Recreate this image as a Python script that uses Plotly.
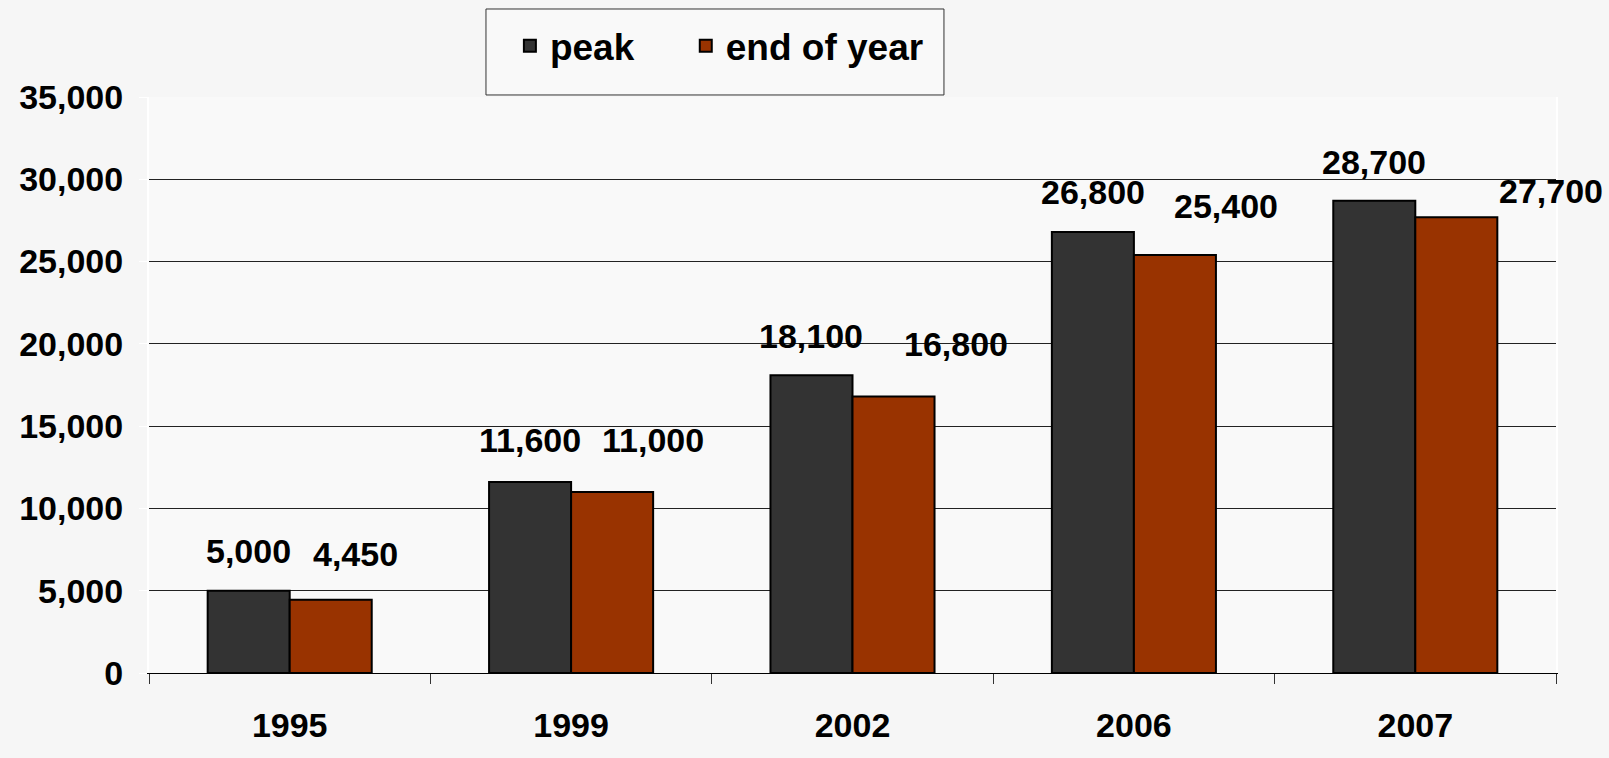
import plotly.graph_objects as go

years = ["1995", "1999", "2002", "2006", "2007"]
peak = [5000, 11600, 18100, 26800, 28700]
end_of_year = [4450, 11000, 16800, 25400, 27700]
series_names = ["peak", "end of year"]

# label offsets (px) relative to bar top-centre, style only
peak_shift = [(0, 40), (0, 42), (0, 39), (0, 40), (0, 39)]
end_shift = [(25, 46), (41, 52), (62, 53), (51, 49), (95, 26)]

bargap = 0.417
FONT = "Liberation Sans, Arial, sans-serif"

fig = go.Figure()
fig.add_trace(go.Bar(x=years, y=peak, name=series_names[0], legend="legend",
                     marker=dict(color="#333333", line=dict(color="#000000", width=2))))
fig.add_trace(go.Bar(x=years, y=end_of_year, name=series_names[1], legend="legend2",
                     marker=dict(color="#993300", line=dict(color="#000000", width=2))))

w = (1 - bargap) / 2
for i, (p, e) in enumerate(zip(peak, end_of_year)):
    fig.add_annotation(x=i - w / 2, y=p, xref="x", yref="y", text=f"{p:,}",
                       showarrow=False, xshift=peak_shift[i][0], yshift=peak_shift[i][1],
                       yanchor="middle", font=dict(size=34, color="#000000", family=FONT, weight="bold"))
    fig.add_annotation(x=i + w / 2, y=e, xref="x", yref="y", text=f"{e:,}",
                       showarrow=False, xshift=end_shift[i][0], yshift=end_shift[i][1],
                       yanchor="middle", font=dict(size=34, color="#000000", family=FONT, weight="bold"))

# legend frame
fig.add_shape(type="rect", xref="paper", yref="paper", x0=0.2395, x1=0.565, y0=1.0035, y1=1.1528,
              line=dict(color="#333333", width=1), fillcolor="#f9f9f9", layer="below")

legend_style = dict(orientation="h", yanchor="middle", xanchor="left", y=1.088,
                    bgcolor="rgba(0,0,0,0)", borderwidth=0,
                    font=dict(size=37, family=FONT, weight="bold"), itemwidth=30)

fig.update_layout(
    width=1609, height=758,
    margin=dict(l=149, r=53, t=97, b=85),
    paper_bgcolor="#f6f6f6", plot_bgcolor="#f9f9f9",
    barmode="group", bargap=bargap, bargroupgap=0,
    font=dict(family=FONT, size=34, color="#000000"),
    showlegend=True,
    legend=dict(x=0.2565, **legend_style),
    legend2=dict(x=0.3815, **legend_style),
    xaxis=dict(type="category", range=[-0.5, 4.5], autorange=False,
               showgrid=False, showline=True, linecolor="#000000", linewidth=1,
               ticks="outside", tickson="boundaries", ticklen=10, tickcolor="#333333",
               ticklabelstandoff=22, tickfont=dict(size=34, family=FONT, weight="bold")),
    yaxis=dict(range=[0, 35000], autorange=False, dtick=5000, tickformat=",", showgrid=True,
               gridcolor="#222222", gridwidth=1, zeroline=False,
               showline=True, linecolor="#ffffff", linewidth=2, mirror=True,
               ticks="outside", ticklen=8, tickcolor="#ffffff", ticklabelstandoff=9,
               tickfont=dict(size=34, family=FONT, weight="bold")),
)
fig.write_html("out.html", config={"displayModeBar": False},
               post_script="document.body.style.margin='0';document.body.style.overflow='hidden';")
